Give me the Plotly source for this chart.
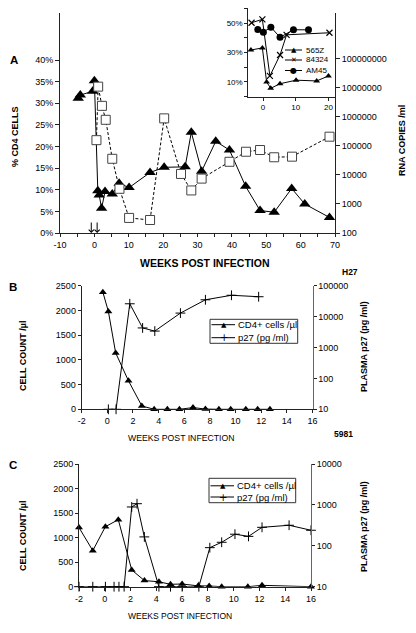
import plotly.graph_objects as go

# The page body has an 8px margin, so the figure is sized to fill the rest of the window
OFF = 8
W, H = 416 - OFF, 633 - OFF
FONT = "Liberation Sans, Arial, Helvetica, sans-serif"

# ---------------- data ----------------
# Panel A (565Z): % CD4 cells and plasma RNA
a_cd4_weeks = [-4.7, -4.1, -0.5, 0.0, 1.0, 1.4, 2.1, 3.1, 5.2, 7.2, 10.1, 16.2, 20.3, 26.4,
               28.2, 31.2, 35.3, 39.3, 44.0, 48.2, 52.3, 57.4, 61.2, 68.4]
a_cd4_pct = [31.2, 31.9, 32.8, 35.2, 9.8, 8.8, 5.7, 9.6, 9.0, 11.5, 10.5, 14.0, 15.2, 15.3,
             23.3, 14.3, 21.2, 19.2, 10.8, 5.2, 4.8, 10.3, 6.7, 3.6]
a_rna_weeks = [0.6, 1.1, 2.2, 3.3, 5.2, 7.3, 10.1, 16.2, 20.3, 25.2, 28.2, 31.2, 39.3, 44.1,
               48.2, 52.3, 57.5, 68.4]
a_rna_copies = [155000, 10700000, 2340000, 776000, 35500, 3300, 330, 280, 870000, 10700,
                2900, 7400, 28000, 62000, 71000, 40000, 42000, 204000]
a_arrow_weeks = [-0.9, 0.8]
a_pct_ticks = [0, 5, 10, 15, 20, 25, 30, 35, 40]
a_rna_ticks = [100, 1000, 10000, 100000, 1000000, 10000000, 100000000]
a_week_ticks = list(range(-10, 75, 5))

# Inset: % CD4 cells for three animals
i_565z_weeks = [-3.7, -0.2, 1.1, 2.35, 5.2, 10.1, 16.4, 20.0]
i_565z_pct = [31.7, 33.1, 10.0, 5.7, 8.8, 11.2, 10.7, 14.1]
i_84324_weeks = [-3.5, -0.2, 2.1, 5.2, 7.2, 20.3]
i_84324_pct = [50.2, 52.5, 14.1, 28.3, 42.0, 43.4]
i_am45_weeks = [-1.6, 0.1, 2.4, 5.2, 9.3, 13.9]
i_am45_pct = [45.6, 43.8, 47.2, 40.3, 45.4, 45.4]
i_names = ["565Z", "84324", "AM45"]

# Panel B (H27)
b_cd4_weeks = [-0.35, 0.08, 0.65, 1.65, 2.69, 3.65, 4.68, 5.62, 6.68, 7.65, 8.7, 9.62, 10.8, 11.72, 12.68]
b_cd4_cells = [2370, 1980, 1140, 575, 68, 0, 0, 0, 35, 5, 0, 0, 0, 0, 0]
b_p27_weeks = [0.08, 0.68, 1.75, 2.75, 3.7, 5.7, 7.65, 9.68, 11.8]
b_p27_pg = [10, 10, 26000, 4300, 3400, 13000, 35000, 49000, 44000]
b_p27_ticks = [10, 100, 1000, 10000, 100000]

# Panel C (5981)
c_cd4_weeks = [-2.0, -0.93, 0.05, 1.05, 2.09, 3.08, 4.2, 5.1, 6.0, 7.25, 8.1, 9.07, 11.1, 12.2, 16.0]
c_cd4_cells = [1205, 735, 1224, 1365, 340, 125, 100, 49, 55, 17, 15, 0, 0, 28, 0]
c_p27_weeks = [-2.0, -0.93, 0.05, 0.72, 1.1, 1.5, 2.09, 2.5, 3.07, 4.2, 5.1, 6.0, 7.3, 8.15,
               9.07, 10.1, 11.15, 12.2, 14.3, 16.0]
c_p27_pg = [10, 10, 10, 10, 10, 10, 890, 1070, 165, 10, 10, 10, 10, 90, 122, 192, 170, 283, 318, 240]
c_p27_ticks = [10, 100, 1000, 10000]

bc_week_ticks = list(range(-2, 18, 2))
bc_cell_ticks = [0, 500, 1000, 1500, 2000, 2500]
legend_labels = ["CD4+ cells /\u00b5l", "p27 (pg /ml)"]


def px(x):
    return (x - OFF) / W


def py(y):
    return 1 - (y - OFF) / H


fig = go.Figure()

# ---- Panel A traces ----
fig.add_trace(go.Scatter(x=a_cd4_weeks, y=a_cd4_pct, xaxis="x", yaxis="y", mode="lines+markers",
                         line=dict(color="black", width=1),
                         marker=dict(symbol="triangle-up", size=10, color="black"), cliponaxis=False))
fig.add_trace(go.Scatter(x=a_rna_weeks, y=a_rna_copies, xaxis="x", yaxis="y2", mode="lines+markers",
                         line=dict(color="black", width=1, dash="3px,2px"),
                         marker=dict(symbol="square", size=9, color="white", line=dict(color="#444", width=1)),
                         cliponaxis=False))
# ---- Inset traces ----
fig.add_trace(go.Scatter(x=i_565z_weeks, y=i_565z_pct, xaxis="x2", yaxis="y3", mode="lines+markers",
                         line=dict(color="black", width=1),
                         marker=dict(symbol="triangle-up", size=6, color="black"), cliponaxis=False))
fig.add_trace(go.Scatter(x=i_84324_weeks, y=i_84324_pct, xaxis="x2", yaxis="y3", mode="lines+markers",
                         line=dict(color="black", width=1),
                         marker=dict(symbol="x-thin", size=6, color="black", line=dict(color="black", width=1.2)),
                         cliponaxis=False))
fig.add_trace(go.Scatter(x=i_am45_weeks, y=i_am45_pct, xaxis="x2", yaxis="y3", mode="lines+markers",
                         line=dict(color="black", width=1),
                         marker=dict(symbol="circle", size=7, color="black"), cliponaxis=False))
# ---- Panel B traces ----
fig.add_trace(go.Scatter(x=b_cd4_weeks, y=b_cd4_cells, xaxis="x3", yaxis="y4", mode="lines+markers",
                         line=dict(color="black", width=1),
                         marker=dict(symbol="triangle-up", size=7, color="black"), cliponaxis=False))
fig.add_trace(go.Scatter(x=b_p27_weeks, y=b_p27_pg, xaxis="x3", yaxis="y5", mode="lines+markers",
                         line=dict(color="black", width=1),
                         marker=dict(symbol="cross-thin", size=7, color="black", line=dict(color="black", width=1)),
                         cliponaxis=False))
# ---- Panel C traces ----
fig.add_trace(go.Scatter(x=c_cd4_weeks, y=c_cd4_cells, xaxis="x4", yaxis="y6", mode="lines+markers",
                         line=dict(color="black", width=1),
                         marker=dict(symbol="triangle-up", size=7, color="black"), cliponaxis=False))
fig.add_trace(go.Scatter(x=c_p27_weeks, y=c_p27_pg, xaxis="x4", yaxis="y7", mode="lines+markers",
                         line=dict(color="black", width=1),
                         marker=dict(symbol="cross-thin", size=7, color="black", line=dict(color="black", width=1)),
                         cliponaxis=False))

tick_font = dict(family=FONT, size=9, color="black")
small_font = dict(family=FONT, size=8, color="black")
base_ax = dict(showline=True, linecolor="#222", linewidth=1, ticks="outside", ticklen=3,
               tickcolor="#222", tickwidth=1, showgrid=False, zeroline=False, tickfont=tick_font,
               automargin=False)


def ax(**kw):
    d = dict(base_ax)
    d.update(kw)
    return d


def fmt_int(v):
    return str(int(v))


layout = dict(
    template="none",
    width=W, height=H, autosize=False,
    margin=dict(l=0, r=0, t=0, b=0, pad=0),
    paper_bgcolor="white", plot_bgcolor="rgba(0,0,0,0)",
    showlegend=False,
    font=dict(family=FONT, color="black"),
    # Panel A
    xaxis=ax(domain=[px(60), px(335)], range=[-10, 70], anchor="y",
             tickvals=a_week_ticks, ticktext=[str(v) if v % 10 == 0 else "" for v in a_week_ticks]),
    yaxis=ax(domain=[py(233), py(13)], range=[0, 50.9], anchor="x",
             tickvals=a_pct_ticks, ticktext=[f"{v}%" for v in a_pct_ticks], ticklen=4),
    yaxis2=ax(type="log", range=[2, 9.56], overlaying="y", side="right", anchor="x",
              tickvals=a_rna_ticks, ticktext=[fmt_int(v) for v in a_rna_ticks], ticklen=4),
    # Inset
    xaxis2=ax(domain=[px(248.3), px(335)], range=[-4.5, 22], anchor="y3",
              tickvals=[0, 10, 20], tickfont=small_font),
    yaxis3=ax(domain=[py(96.7), py(8.3)], range=[0, 60], anchor="x2",
              tickvals=[0, 10, 20, 30, 40, 50, 60],
              ticktext=["", "10%", "", "30%", "", "50%", ""], tickfont=small_font),
    # Panel B
    xaxis3=ax(domain=[px(81.7), px(312.5)], range=[-2, 16], anchor="y4",
              tickvals=bc_week_ticks, ticktext=[str(v) for v in bc_week_ticks]),
    yaxis4=ax(domain=[py(409.3), py(285.7)], range=[0, 2500], anchor="x3",
              tickvals=bc_cell_ticks, ticktext=[str(v) for v in bc_cell_ticks]),
    yaxis5=ax(type="log", range=[1, 5], overlaying="y4", side="right", anchor="x3",
              tickvals=b_p27_ticks, ticktext=[fmt_int(v) for v in b_p27_ticks], linecolor="#666"),
    # Panel C
    xaxis4=ax(domain=[px(79), px(311)], range=[-2, 16], anchor="y6",
              tickvals=bc_week_ticks, ticktext=[str(v) for v in bc_week_ticks]),
    yaxis6=ax(domain=[py(586.7), py(464)], range=[0, 2500], anchor="x4",
              tickvals=bc_cell_ticks, ticktext=[str(v) for v in bc_cell_ticks]),
    yaxis7=ax(type="log", range=[1, 4], overlaying="y6", side="right", anchor="x4",
              tickvals=c_p27_ticks, ticktext=[fmt_int(v) for v in c_p27_ticks], linecolor="#666"),
)
fig.update_layout(**layout)

annotations = []
shapes = []


def text(t, x, y, size, bold=False, angle=0, xanchor="center", family=FONT):
    annotations.append(dict(text=f"<b>{t}</b>" if bold else t, x=px(x), y=py(y), xref="paper", yref="paper",
                            showarrow=False, textangle=angle, xanchor=xanchor, yanchor="middle",
                            borderpad=0, font=dict(family=family, size=size, color="black")))


# Panel letters and labels
text("A", 14, 60, 11.5, bold=True)
text("B", 13, 287, 11.5, bold=True)
text("C", 13, 465, 11.5, bold=True)
text("H27", 350, 272, 8.5, bold=True)
text("5981", 343, 434, 8.5, bold=True)

# Axis titles
text("WEEKS POST INFECTION", 204.7, 262.7, 10.5, bold=True)
text("% CD4 CELLS", 15, 137, 9, bold=True, angle=-90)
text("RNA COPIES /ml", 402, 141, 9, bold=True, angle=-90)
text("WEEKS POST INFECTION", 181, 437.7, 8.7)
text("CELL COUNT /\u00b5l", 23, 356, 9, bold=True, angle=-90)
text("PLASMA p27 (pg /ml)", 364, 347, 9, bold=True, angle=-90)
text("WEEKS POST INFECTION", 180, 615.7, 8.5)
text("CELL COUNT /\u00b5l", 23, 536, 9, bold=True, angle=-90)
text("PLASMA p27 (pg /ml)", 364, 527, 9, bold=True, angle=-90)

# Arrows marking inoculations
for w in a_arrow_weeks:
    annotations.append(dict(x=w, y=0, xref="x", yref="y", ax=0, ay=-12, text="", showarrow=True,
                            arrowhead=4, arrowsize=1, arrowwidth=1, arrowcolor="black"))

# Inset legend
glyphs = [("\u25b2", 7), ("\u2715", 7), ("\u25cf", 8)]
for (g, gs), name, yy in zip(glyphs, i_names, [50, 60, 70.5]):
    shapes.append(dict(type="line", xref="paper", yref="paper", x0=px(285), x1=px(302), y0=py(yy), y1=py(yy),
                       line=dict(color="black", width=1)))
    text(g, 293.5, yy, gs, family="DejaVu Sans")
    text(name, 304.5, yy, 8, xanchor="left")

# B and C legends
for (bx0, by0, bx1, by1, ys) in [(210, 319.3, 297.7, 343.3, [324.7, 337.7]),
                                  (209, 478.3, 295.7, 502.7, [485.8, 497])]:
    shapes.append(dict(type="rect", xref="paper", yref="paper", x0=px(bx0), x1=px(bx1), y0=py(by1), y1=py(by0),
                       line=dict(color="#333", width=1), fillcolor="white"))
    for (g, gs), lab, yy in zip([("\u25b2", 7), ("+", 10)], legend_labels, ys):
        shapes.append(dict(type="line", xref="paper", yref="paper", x0=px(bx0 + 1.5), x1=px(bx0 + 25),
                           y0=py(yy), y1=py(yy), line=dict(color="black", width=1)))
        text(g, bx0 + 14, yy, gs, family="DejaVu Sans")
        text(lab, bx0 + 26.5, yy, 9.5, xanchor="left")

fig.update_layout(annotations=annotations, shapes=shapes)
fig.write_html("out.html")
